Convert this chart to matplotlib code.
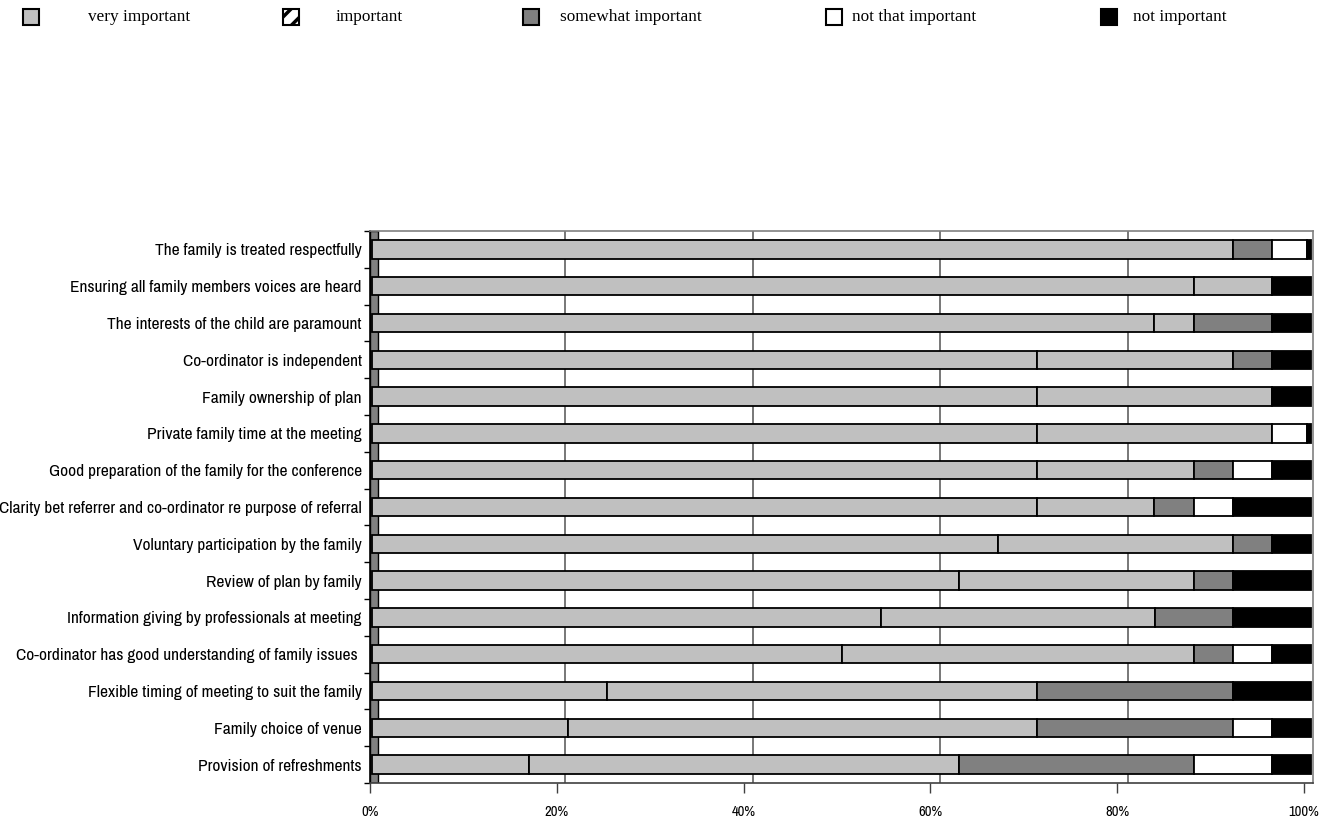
import numpy as np
import matplotlib.pyplot as plt
import matplotlib.transforms as mtransforms
from matplotlib import font_manager
from matplotlib.patches import Rectangle

# survey items, top to bottom
items = [
    'The family is treated respectfully',
    'Ensuring all family members voices are heard',
    'The interests of the child are paramount',
    'Co-ordinator is independent',
    'Family ownership of plan',
    'Private family time at the meeting',
    'Good preparation of the family for the conference',
    'Clarity bet referrer and co-ordinator re purpose of referral',
    'Voluntary participation by the family',
    'Review of plan by family',
    'Information giving by professionals at meeting',
    'Co-ordinator has good understanding of family issues ',
    'Flexible timing of meeting to suit the family',
    'Family choice of venue',
    'Provision of refreshments',
]

# percentages of responses
very_important = [91.67, 87.5, 83.33, 70.83, 70.83, 70.83, 70.83, 70.83,
                  66.67, 62.5, 54.17, 50.0, 25.0, 20.83, 16.67]
important = [0, 8.33, 4.17, 20.83, 25.0, 25.0, 16.67, 12.5,
             25.0, 25.0, 29.17, 37.5, 45.83, 50.0, 45.83]
somewhat_important = [4.17, 0, 8.33, 4.17, 0, 0, 4.17, 4.17,
                      4.17, 4.17, 8.33, 4.17, 20.83, 20.83, 25.0]
not_that_important = [3.7, 0, 0, 0, 0, 3.7, 4.17, 4.17,
                      0, 0, 0, 4.17, 0, 4.17, 8.33]
not_important = [0.46, 4.17, 4.17, 4.17, 4.17, 0.46, 4.17, 8.33,
                 4.17, 8.33, 8.33, 4.17, 8.33, 4.17, 4.17]

series = [very_important, important, somewhat_important,
          not_that_important, not_important]
names = ['very important', 'important', 'somewhat important',
         'not that important', 'not important']
colors = ['#c0c0c0', '#c0c0c0', '#808080', '#ffffff', '#000000']


def narrow_font():
    # look for a condensed sans face, else plain DejaVu Sans
    for f in font_manager.fontManager.ttflist:
        if 'Narrow' in f.name and f.weight in (400, 'normal') and f.style == 'normal':
            return font_manager.FontProperties(fname=f.fname), True
    for f in font_manager.fontManager.ttflist:
        if (f.stretch == 'condensed' or 'Condensed' in f.fname) and \
                f.weight in (400, 'normal') and f.style == 'normal' and 'Sans' in f.name \
                and 'Bold' not in f.fname and 'Oblique' not in f.fname:
            return font_manager.FontProperties(fname=f.fname), True
    return font_manager.FontProperties(family='DejaVu Sans'), False


label_fp, is_narrow = narrow_font()
label_size = 12.5 if is_narrow else 9.6
legend_font = ['Liberation Serif', 'DejaVu Serif']

W, H = 1321, 824
fig = plt.figure(figsize=(W / 100, H / 100), dpi=100)

# plot area in pixels
x0, x1, y_top, y_bot = 370, 1313, 231, 783
ax = fig.add_axes([x0 / W, 1 - y_bot / H, (x1 - x0) / W, (y_bot - y_top) / H])

px = 9.39  # pixels per percent for the bars
ax.set_xlim(-2 / px, -2 / px + (x1 - x0) / px)
n = len(items)
y = np.arange(n)
ax.set_ylim(n - 0.5, -0.5)

left = np.zeros(n)
for vals, c in zip(series, colors):
    vals = np.array(vals)
    ax.barh(y, vals, left=left, height=0.5, color=c, edgecolor='black',
            linewidth=1.3, zorder=3)
    left += vals

# dark side wall
ax.add_patch(Rectangle((0, 0), 8 / (x1 - x0), 1, transform=ax.transAxes,
                       facecolor='#808080', edgecolor='black', linewidth=1,
                       zorder=1))

# gridlines sit slightly behind the bars (depth offset)
shift = mtransforms.ScaledTranslation(5 / 100, 0, fig.dpi_scale_trans)
grid_tr = mtransforms.blended_transform_factory(ax.transData + shift, ax.transAxes)
ax.vlines([20, 40, 60, 80], 0, 1, transform=grid_tr, color='#606060',
          linewidth=1.2, zorder=1)

ax.set_xticks([])
ax.set_yticks(y)
ax.set_yticklabels(items)
for t in ax.get_yticklabels():
    t.set_fontproperties(label_fp)
    t.set_fontsize(label_size)
ax.tick_params(axis='y', which='major', length=0, pad=6)
ax.set_yticks(np.arange(-0.5, n), minor=True)
ax.tick_params(axis='y', which='minor', length=4, width=1, direction='out')

for s in ['top', 'right']:
    ax.spines[s].set_color('#808080')
    ax.spines[s].set_linewidth(1.2)
ax.spines['left'].set_linewidth(1.2)
ax.spines['bottom'].set_linewidth(1.2)
ax.spines['bottom'].set_color('#404040')

# percent scale along the floor edge
tx0, tx1 = 370, 1304
axt = fig.add_axes([tx0 / W, 1 - y_bot / H, (tx1 - tx0) / W, 0.0001])
axt.set_xlim(0, 100)
axt.set_yticks([])
for s in ['top', 'right', 'left', 'bottom']:
    axt.spines[s].set_visible(False)
axt.patch.set_visible(False)
axt.set_xticks([0, 20, 40, 60, 80, 100])
axt.set_xticklabels(['0%', '20%', '40%', '60%', '80%', '100%'])
for t in axt.get_xticklabels():
    t.set_fontproperties(label_fp)
    t.set_fontsize(10.5 if is_narrow else 8.5)
axt.tick_params(axis='x', length=7, width=1, color='#404040', pad=9)

# legend row
sq_x = [23, 283, 523, 826, 1101]
txt_x = [88, 336, 560, 852, 1133]
ly = 17
plt.rcParams['hatch.linewidth'] = 2.5
for sx, tx, name, c in zip(sq_x, txt_x, names, colors):
    if name == 'important':
        r = Rectangle((sx / W, 1 - (ly + 8) / H), 16 / W, 16 / H,
                      transform=fig.transFigure, facecolor='white',
                      edgecolor='black', linewidth=1.5, hatch='//')
    else:
        r = Rectangle((sx / W, 1 - (ly + 8) / H), 16 / W, 16 / H,
                      transform=fig.transFigure, facecolor=c,
                      edgecolor='black', linewidth=1.5)
    fig.patches.append(r)
    fig.text(tx / W, 1 - ly / H, name, family=legend_font, fontsize=12.4,
             va='center', ha='left')

fig.savefig('out.png', dpi=100)
